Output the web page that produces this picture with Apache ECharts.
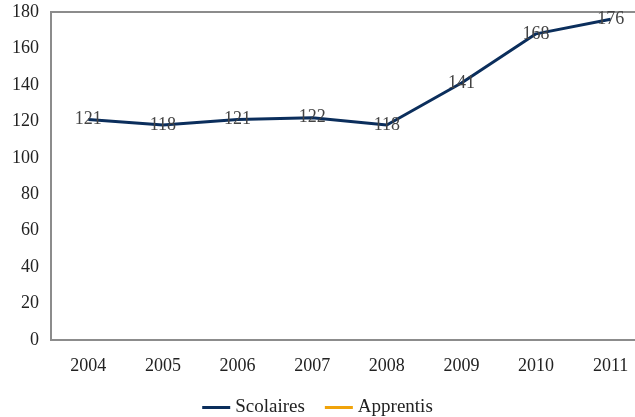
<!DOCTYPE html>
<html><head><meta charset="utf-8">
<script src="https://cdn.jsdelivr.net/npm/echarts@6/dist/echarts.min.js"></script>
<style>html,body{margin:0;padding:0;background:#fff}#c{width:635px;height:417px}</style>
</head><body><div id="c"></div>
<script>
const categories = ['2004','2005','2006','2007','2008','2009','2010','2011'];
const scolaires = [121,118,121,122,118,141,168,176];
const apprentis = [];
const yTicks = {min:0, max:180, interval:20};

const font = '"Liberation Serif","DejaVu Serif",serif';
const chart = echarts.init(document.getElementById('c'));
chart.setOption({
  animation:false,
  grid:{left:51, top:12, right:-13, bottom:77, outerBoundsMode:'none', containLabel:false,
    show:true, borderColor:'#8c8c8c', borderWidth:2, backgroundColor:'transparent'},
  xAxis:{type:'category', data:categories, boundaryGap:true,
    axisLine:{show:true, lineStyle:{color:'#8c8c8c', width:2}},
    axisTick:{show:false},
    axisLabel:{color:'#222', fontFamily:font, fontSize:18, margin:17}},
  yAxis:{type:'value', min:yTicks.min, max:yTicks.max, interval:yTicks.interval,
    axisLine:{show:true, lineStyle:{color:'#8c8c8c', width:2}},
    axisTick:{show:false}, splitLine:{show:false},
    axisLabel:{color:'#222', fontFamily:font, fontSize:18, margin:12}},
  legend:{top:393, left:'center', itemWidth:28, itemHeight:3, itemGap:20,
    textStyle:{color:'#222', fontFamily:font, fontSize:19},
    data:[{name:'Scolaires', icon:'rect'},{name:'Apprentis', icon:'rect'}]},
  series:[
    {name:'Scolaires', type:'line', data:scolaires, symbol:'circle', symbolSize:0, showSymbol:true,
     lineStyle:{color:'#0b2e5c', width:3}, itemStyle:{color:'#0b2e5c'},
     label:{show:true, position:'inside', color:'#444', fontFamily:font, fontSize:18}},
    {name:'Apprentis', type:'line', data:apprentis, symbol:'none',
     lineStyle:{color:'#f0a30a', width:3}, itemStyle:{color:'#f0a30a'}}
  ]
});
</script></body></html>
